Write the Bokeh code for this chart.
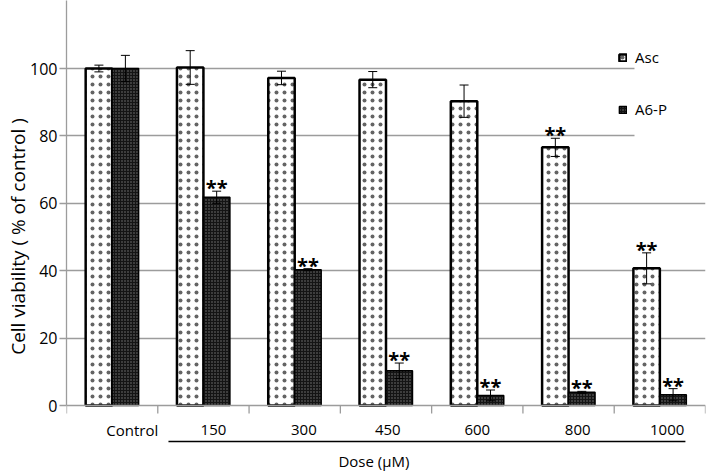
import numpy as np
from bokeh.plotting import figure
from bokeh.models import (ColumnDataSource, Range1d, LinearAxis, FixedTicker, Grid,
                          Legend, LegendItem, Whisker, TeeHead, Span)
from bokeh.embed import file_html
from bokeh.resources import INLINE
from bokeh.core.properties import value

# ---- data ----
categories = ["Control", "150", "300", "450", "600", "800", "1000"]
asc_mean = [100.0, 100.3, 97.2, 96.7, 90.3, 76.6, 40.7]
asc_err = [1.0, 5.0, 2.0, 2.4, 4.8, 2.7, 4.6]
a6p_mean = [100.0, 61.8, 40.3, 10.3, 3.0, 3.9, 3.2]
a6p_err = [3.9, 1.8, 0.3, 2.3, 1.6, 0.3, 1.8]
asc_sig = ["", "", "", "", "", "**", "**"]
a6p_sig = ["", "**", "**", "**", "**", "**", "**"]
y_ticks = [0, 20, 40, 60, 80, 100]
x_title = "Dose   (\u03bcM)"
y_title = "Cell viability ( % of control )"

# ---- styling / layout ----
FONT = "Open Sans"
GRAY = "#9c9c9c"
bar_w = 0.29
label_shift = [0.22, 0.11, 0.10, 0.02, 0.0, 0.10, 0.08]
Y_TOP, Y_BOT = 120.18, -19.88      # data range; area below 0 holds the category labels
LABEL_Y, BRACKET_Y, TITLE_Y, TICK_LEN = -7.4, -10.7, -16.5, -2.37
n = len(categories)
idx = np.arange(n)

asc_src = ColumnDataSource(dict(
    x=idx + 0.355, top=asc_mean,
    upper=np.array(asc_mean) + np.array(asc_err),
    lower=np.array(asc_mean) - np.array(asc_err),
    sig=asc_sig))
a6p_src = ColumnDataSource(dict(
    x=idx + 0.645, top=a6p_mean,
    upper=np.array(a6p_mean) + np.array(a6p_err),
    lower=np.array(a6p_mean) - np.array(a6p_err),
    sig=a6p_sig))
lab_src = ColumnDataSource(dict(x=idx + 0.5 + np.array(label_shift),
                                y=[LABEL_Y] * n, text=categories))

p = figure(width=708, height=472, x_range=Range1d(0, n),
           y_range=Range1d(Y_BOT, Y_TOP), output_backend="svg", toolbar_location=None,
           x_axis_type=None, y_axis_type=None,
           min_border_left=66, min_border_right=3, min_border_top=0, min_border_bottom=0)
p.outline_line_color = None
p.background_fill_color = "white"

# grid lines (upper two stop short of the legend)
p.add_layout(Grid(dimension=1, ticker=FixedTicker(ticks=[20, 40, 60]),
                  grid_line_color=GRAY, grid_line_width=1.3))
try:
    g2 = Grid(dimension=1, ticker=FixedTicker(ticks=[80, 100]), grid_line_color=GRAY,
              grid_line_width=1.3, cross_bounds=(0, 6.22))
except Exception:
    g2 = Grid(dimension=1, ticker=FixedTicker(ticks=[80, 100]), grid_line_color=GRAY,
              grid_line_width=1.3)
p.add_layout(g2)

# x axis line at 0 and boundary ticks
p.add_layout(Span(location=0, dimension="width", line_color=GRAY, line_width=1.3))
p.segment(x0=list(range(n + 1)), x1=list(range(n + 1)), y0=0, y1=TICK_LEN,
          line_color=GRAY, line_width=1.3)

# bars
r_asc = p.vbar(x="x", top="top", width=bar_w, bottom=0, source=asc_src,
               fill_color="white", line_color="black", line_width=2.5,
               hatch_pattern="dot", hatch_color="#222222", hatch_scale=8, hatch_alpha=0.7)
r_a6p = p.vbar(x="x", top="top", width=bar_w, bottom=0, source=a6p_src,
               fill_color="#141414", line_color="black", line_width=1.5,
               hatch_pattern="dot", hatch_color="#7a7a7a", hatch_scale=3)

# error bars + significance marks
for src in (asc_src, a6p_src):
    p.add_layout(Whisker(source=src, base="x", upper="upper", lower="lower",
                         dimension="height", line_color="black", line_width=1, level="overlay",
                         upper_head=TeeHead(size=9, line_color="black", line_width=1),
                         lower_head=TeeHead(size=9, line_color="black", line_width=1)))
    p.text(x="x", y="upper", text="sig", source=src, text_align="center",
           text_baseline="bottom", text_font=value(FONT), text_font_size="20px",
           text_font_style="bold", text_color="black", y_offset=10)

# category labels, dose bracket and dose title below the axis line
p.text(x="x", y="y", text="text", source=lab_src, text_align="center",
       text_baseline="middle", text_font=value(FONT), text_font_size="15px",
       text_color="black")
p.segment(x0=[1.117], x1=[6.78], y0=[BRACKET_Y], y1=[BRACKET_Y],
          line_color="black", line_width=1.5)
p.text(x=[3.41], y=[TITLE_Y], text=[x_title], text_align="center",
       text_baseline="middle", text_font=value(FONT), text_font_size="15px",
       text_color="black")

# y axis
yax = LinearAxis(ticker=FixedTicker(ticks=y_ticks), bounds=(0, Y_TOP),
                 axis_line_color=GRAY, axis_line_width=1.3,
                 major_tick_line_color=GRAY, major_tick_line_width=1.3,
                 major_tick_out=7, major_tick_in=0,
                 minor_tick_out=0, minor_tick_in=0, major_label_standoff=2,
                 major_label_text_font=FONT, major_label_text_font_size="16px",
                 major_label_text_color="black",
                 axis_label=y_title, axis_label_text_font=FONT,
                 axis_label_text_font_size="19px", axis_label_text_font_style="normal",
                 axis_label_text_color="black", axis_label_standoff=-4)
p.add_layout(yax, "left")

legend = Legend(items=[LegendItem(label="Asc", renderers=[r_asc]),
                       LegendItem(label="A6-P", renderers=[r_a6p])],
                location=(552, 353), orientation="vertical",
                glyph_width=9, glyph_height=9, label_standoff=8, spacing=32,
                padding=0, margin=0, border_line_color=None, background_fill_alpha=0,
                label_text_font=FONT, label_text_font_size="15px", label_text_color="black")
p.add_layout(legend)

open("out.html", "w").write(file_html(p, INLINE))
